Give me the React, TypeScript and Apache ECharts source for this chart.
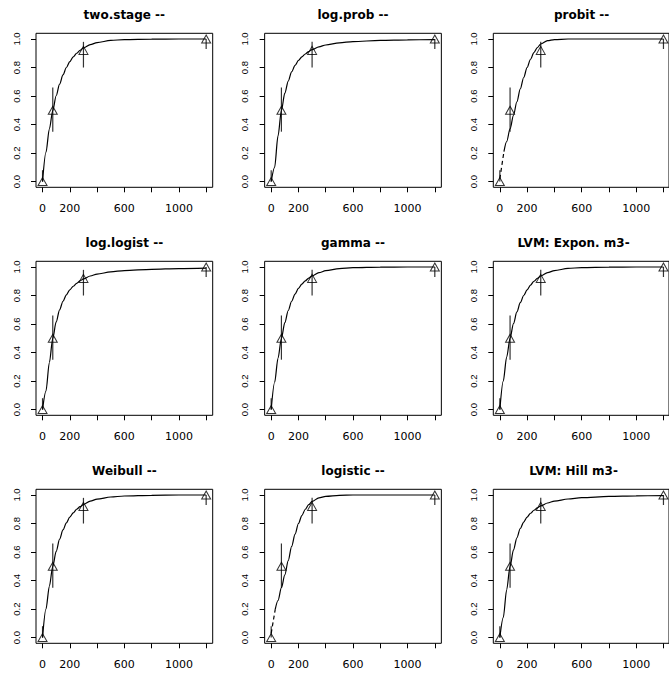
import React, { useEffect, useRef } from "react";
import * as echarts from "echarts";

// ---- data ----
const doses = [0, 75, 300, 1200];
const response = [0, 0.5, 0.92, 1.0];
const ciLower = [0, 0.35, 0.8, 0.93];
const ciUpper = [0.08, 0.66, 0.98, 1.0];

const xHiddenLabels = [400, 800, 1200];

const curveX = [0, 25, 50, 75, 100, 125, 150, 175, 200, 225, 250, 275, 300, 350, 400, 500, 600, 800, 1000, 1200];
const sigmoidX = [30, 50, 75, 100, 125, 150, 175, 200, 225, 250, 275, 300, 350, 400, 500, 600, 800, 1000, 1200];

const twoStageY = [0, 0.205, 0.369, 0.498, 0.602, 0.683, 0.748, 0.8, 0.841, 0.874, 0.9, 0.92, 0.937, 0.96, 0.975, 0.99, 0.996, 0.999, 1, 1];
const logProbY = [0, 0.1, 0.32, 0.5, 0.62, 0.705, 0.77, 0.815, 0.85, 0.875, 0.895, 0.912, 0.925, 0.945, 0.958, 0.973, 0.982, 0.99, 0.994, 0.996];
const probitY = [0.21, 0.28, 0.37, 0.465, 0.56, 0.65, 0.73, 0.8, 0.858, 0.905, 0.94, 0.965, 0.988, 0.996, 1, 1, 1, 1, 1];
const logLogistY = [0, 0.13, 0.33, 0.5, 0.615, 0.7, 0.76, 0.805, 0.84, 0.865, 0.885, 0.903, 0.917, 0.937, 0.95, 0.966, 0.975, 0.984, 0.989, 0.992];
const gammaY = [0, 0.19, 0.36, 0.5, 0.61, 0.695, 0.76, 0.81, 0.85, 0.88, 0.903, 0.922, 0.937, 0.96, 0.974, 0.989, 0.995, 0.999, 1, 1];
const lvmExponY = [0, 0.2, 0.368, 0.5, 0.603, 0.685, 0.75, 0.8, 0.84, 0.873, 0.9, 0.92, 0.937, 0.96, 0.975, 0.99, 0.996, 0.999, 1, 1];
const weibullY = [0, 0.2, 0.36, 0.5, 0.605, 0.69, 0.755, 0.805, 0.845, 0.875, 0.9, 0.918, 0.933, 0.957, 0.971, 0.986, 0.993, 0.998, 1, 1];
const logisticY = [0.2, 0.26, 0.35, 0.44, 0.54, 0.64, 0.725, 0.8, 0.856, 0.9, 0.932, 0.955, 0.98, 0.991, 0.998, 1, 1, 1, 1];
const lvmHillY = [0, 0.14, 0.335, 0.5, 0.615, 0.7, 0.765, 0.81, 0.845, 0.872, 0.893, 0.91, 0.924, 0.944, 0.957, 0.972, 0.981, 0.99, 0.994, 0.996];

const probitDashX = [0, 30];
const probitDashY = [0.02, 0.21];
const logisticDashX = [0, 30];
const logisticDashY = [0.03, 0.2];

const panels = [
  { title: "two.stage --", x: curveX, y: twoStageY, dx: 0 },
  { title: "log.prob --", x: curveX, y: logProbY, dx: 0 },
  { title: "probit --", x: sigmoidX, y: probitY, dashX: probitDashX, dashY: probitDashY, dx: 0 },
  { title: "log.logist --", x: curveX, y: logLogistY, dx: 0 },
  { title: "gamma --", x: curveX, y: gammaY, dx: 0 },
  { title: "LVM: Expon. m3-", x: curveX, y: lvmExponY, dx: -8 },
  { title: "Weibull --", x: curveX, y: weibullY, dx: 0 },
  { title: "logistic --", x: sigmoidX, y: logisticY, dashX: logisticDashX, dashY: logisticDashY, dx: 0 },
  { title: "LVM: Hill m3-", x: curveX, y: lvmHillY, dx: -8 },
];

const zip = (a: number[], b: number[]) => a.map((v, i) => [v, b[i]]);

export default function App() {
  const ref = useRef<HTMLDivElement>(null);
  useEffect(() => {
    if (!ref.current) return;
    const chart = echarts.init(ref.current, null, { renderer: "svg" });
    const colW = 228.65;
    const rowH = 228;
    const boxW = 176.7;
    const boxH = 154;
    // R's default 4% axis padding
    const padX = (boxW * 48) / 1296;
    const padY = (boxH * 0.04) / 1.08;
    const grids: any[] = [];
    const xAxes: any[] = [];
    const yAxes: any[] = [];
    const titles: any[] = [];
    const series: any[] = [];
    panels.forEach((p, i) => {
      const col = i % 3;
      const row = Math.floor(i / 3);
      const left = 36 + col * colW;
      const top = 33.3 + row * rowH;
      const dataGrid = grids.length;
      grids.push({
        left: left + padX, top: top + padY, width: boxW - 2 * padX, height: boxH - 2 * padY,
        show: false, containLabel: false,
      });
      const boxGrid = grids.length;
      grids.push({
        left, top, width: boxW, height: boxH,
        show: true, borderColor: "#000", borderWidth: 1, backgroundColor: "transparent",
        containLabel: false,
      });
      titles.push({
        text: p.title,
        left: left + boxW / 2 + p.dx,
        top: 9 + row * rowH,
        textAlign: "center",
        padding: 0,
        textStyle: { fontFamily: "DejaVu Sans", fontWeight: "bold", fontSize: 12, color: "#000" },
      });
      const xi = xAxes.length;
      xAxes.push({
        gridIndex: dataGrid, type: "value", min: 0, max: 1200, interval: 200,
        position: "bottom", offset: padY,
        axisLine: { show: false, onZero: false },
        splitLine: { show: false },
        axisTick: { show: true, length: 5, lineStyle: { color: "#000", width: 1 } },
        axisLabel: {
          show: true, margin: 16, showMinLabel: true, showMaxLabel: true,
          fontFamily: "DejaVu Sans", fontSize: 11, color: "#000",
          formatter: (v: number) => (xHiddenLabels.indexOf(v) >= 0 ? "" : String(v)),
        },
      });
      xAxes.push({ gridIndex: boxGrid, type: "value", min: 0, max: 1, show: false });
      const yi = yAxes.length;
      yAxes.push({
        gridIndex: dataGrid, type: "value", min: 0, max: 1, interval: 0.2,
        position: "left", offset: padX,
        axisLine: { show: false, onZero: false },
        splitLine: { show: false },
        axisTick: { show: true, length: 5, lineStyle: { color: "#000", width: 1 } },
        axisLabel: {
          show: true, margin: 15, rotate: 90, showMinLabel: true, showMaxLabel: true,
          fontFamily: "Liberation Sans", fontSize: 9.5, color: "#000",
          formatter: (v: number) => v.toFixed(1),
        },
      });
      yAxes.push({ gridIndex: boxGrid, type: "value", min: 0, max: 1, show: false });
      series.push({
        type: "line", xAxisIndex: xi, yAxisIndex: yi,
        data: zip(p.x, p.y), showSymbol: false, symbol: "none",
        smooth: 0.3, smoothMonotone: "x", clip: false,
        lineStyle: { color: "#000", width: 1.2 },
        silent: true,
      });
      if (p.dashX) {
        series.push({
          type: "line", xAxisIndex: xi, yAxisIndex: yi,
          data: zip(p.dashX, p.dashY as number[]), showSymbol: false, symbol: "none", clip: false,
          lineStyle: { color: "#000", width: 1.2, type: [4, 3] },
          silent: true,
        });
      }
      series.push({
        type: "custom", xAxisIndex: xi, yAxisIndex: yi, coordinateSystem: "cartesian2d",
        data: doses.map((d, k) => [d, ciLower[k], ciUpper[k]]),
        encode: { x: 0, y: [1, 2] }, clip: false,
        renderItem: (_params: any, api: any) => {
          const x = api.value(0);
          const p1 = api.coord([x, api.value(1)]);
          const p2 = api.coord([x, api.value(2)]);
          return {
            type: "line",
            shape: { x1: p1[0], y1: p1[1], x2: p2[0], y2: p2[1] },
            style: { stroke: "#333", lineWidth: 1.2 },
          };
        },
        silent: true,
      });
      series.push({
        type: "scatter", xAxisIndex: xi, yAxisIndex: yi,
        data: zip(doses, response), clip: false,
        symbol: "triangle", symbolSize: [9, 8],
        itemStyle: { color: "rgba(0,0,0,0)", borderColor: "#000", borderWidth: 1 },
        silent: true,
      });
    });
    chart.setOption({
      animation: false,
      backgroundColor: "#fff",
      title: titles,
      grid: grids,
      xAxis: xAxes,
      yAxis: yAxes,
      series,
    });
    return () => chart.dispose();
  }, []);
  return (
    <div
      ref={ref}
      style={{ position: "fixed", left: 0, top: 0, width: 669, height: 680, background: "#fff" }}
    />
  );
}
